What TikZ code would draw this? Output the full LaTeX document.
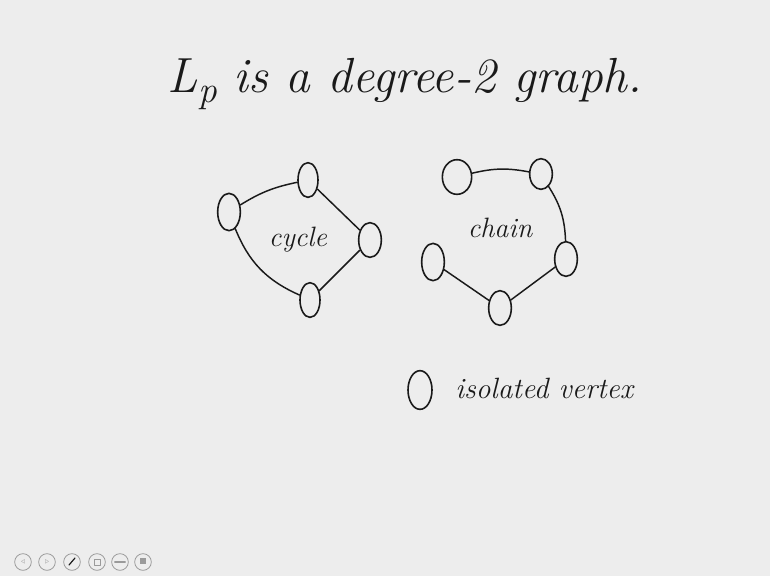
\documentclass[tikz,border=0pt]{standalone}
\usetikzlibrary{shapes.geometric}
\definecolor{paper}{HTML}{EDEDED}
\definecolor{ink}{HTML}{1A1A1A}
\definecolor{btn}{HTML}{9A9A9A}
\tikzset{
  vtx/.style={draw=ink, ellipse, line width=1.2pt, inner sep=0pt, minimum width=17pt, minimum height=26pt},
  edg/.style={draw=ink, line width=1.1pt},
  hand/.style={text=ink, font=\itshape\fontsize{21}{24}\selectfont, inner sep=0pt},
  btnc/.style={draw=btn, circle, line width=0.6pt, inner sep=0pt, minimum size=12.5pt, text=btn, font=\tiny}
}
\begin{document}
\begin{tikzpicture}[x=0.75pt, y=-0.75pt, line join=round, line cap=round]
	\fill[paper] (0,0) rectangle (770,576);
	\useasboundingbox (0,0) rectangle (770,576);
	% title
	\node[hand, font=\itshape\fontsize{37}{42}\selectfont, anchor=base] (title) at (405,92) {L\raisebox{-0.22em}{\fontsize{28}{30}\selectfont p}\ is a degree-2 graph.};
	% cycle
	\node[vtx, minimum height=28pt] (c1) at (229,212) {};
	\node[vtx, minimum width=15pt] (c2) at (308,180) {};
	\node[vtx] (c3) at (370,240) {};
	\node[vtx, minimum width=15pt] (c4) at (310,300) {};
	\node[hand] (cyc) at (298,240) {cycle};
	\draw[edg] (c1) to[bend left=10] (c2);
	\draw[edg] (c2) -- (c3);
	\draw[edg] (c3) -- (c4);
	\draw[edg] (c1) to[bend right=22] (c4);
	% chain
	\node[vtx, minimum width=22pt] (h1) at (457,177) {};
	\node[vtx, minimum height=23pt] (h2) at (541,174) {};
	\node[vtx] (h3) at (566,259) {};
	\node[vtx] (h4) at (500,308) {};
	\node[vtx, minimum height=28pt] (h5) at (433,262) {};
	\node[hand] (chn) at (500,228) {chain};
	\draw[edg] (h1) to[bend left=12] (h2);
	\draw[edg] (h2) to[bend left=15] (h3);
	\draw[edg] (h3) -- (h4);
	\draw[edg] (h4) -- (h5);
	% isolated vertex
	\node[vtx, minimum width=18pt, minimum height=29pt] (iso) at (420,390) {};
	\node[hand, font=\itshape\fontsize{22}{26}\selectfont, anchor=west] (isot) at (455,388) {isolated vertex};
	% viewer buttons
	\node[btnc] (b1) at (23,562) {$\triangleleft$};
	\node[btnc] (b2) at (47,562) {$\triangleright$};
	\node[btnc] (b3) at (72,562) {};
	\node[btnc] (b4) at (97,562) {};
	\node[btnc] (b5) at (120,562) {};
	\node[btnc] (b6) at (143,562) {};
	\draw[ink, line width=0.9pt] ([shift={(-3,3)}]b3.center) -- ([shift={(3,-4)}]b3.center);
	\draw[btn, line width=0.6pt] ([shift={(-3,-3)}]b4.center) rectangle ([shift={(3,3)}]b4.center);
	\draw[btn, line width=0.8pt] ([xshift=-4]b5.center) -- ([xshift=4]b5.center);
	\fill[btn] ([shift={(-3,-4)}]b6.center) rectangle ([shift={(3,2)}]b6.center);
\end{tikzpicture}
\end{document}
